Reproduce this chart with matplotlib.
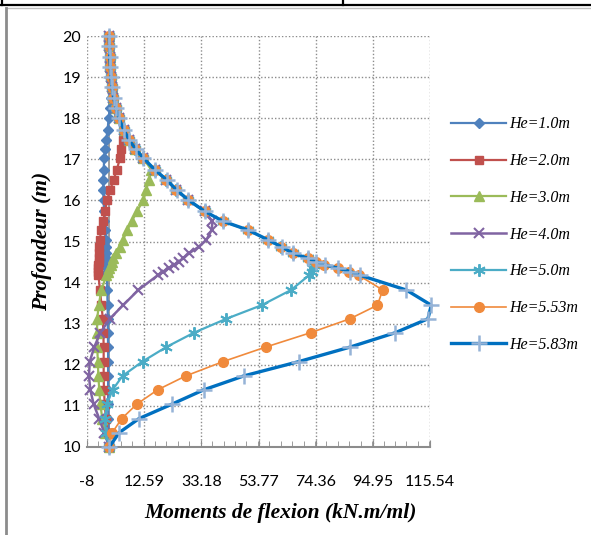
import matplotlib
matplotlib.use("Agg")
import matplotlib.pyplot as plt
from matplotlib.lines import Line2D
from matplotlib.ticker import MultipleLocator, FixedLocator

# depth of the nodes (m)
profondeur = [10.00, 10.35, 10.69, 11.04, 11.39, 11.73, 12.08, 12.43, 12.78, 13.12, 13.45, 13.82,
              14.18, 14.27, 14.35, 14.43, 14.51, 14.59, 14.71, 14.87, 15.04, 15.28, 15.49, 15.73,
              16.01, 16.25, 16.50, 16.74, 17.03, 17.25, 17.47, 17.71, 18.00, 18.25, 18.50, 18.75,
              19.00, 19.25, 19.50, 19.75, 20.00]

# bending moments (kN.m/ml) for each excavation height
m_10 = [0.0, -0.2, -0.3, -0.4, -0.4, -0.4, -0.4, -0.4, -0.5, -0.5, -0.6, -0.7,
        -0.8, -0.8, -0.9, -0.9, -1.0, -1.0, -1.1, -1.2, -1.3, -1.5, -1.7, -1.9,
        -2.0, -2.1, -2.1, -2.0, -1.8, -1.5, -1.1, -0.6, -0.2, 0.3, 0.5, 0.5,
        0.4, 0.3, 0.2, 0.1, 0.0]
m_20 = [0.0, -0.6, -1.2, -1.6, -1.9, -2.0, -2.0, -2.0, -2.1, -2.3, -2.8, -3.3,
        -3.9, -3.9, -3.9, -3.9, -3.8, -3.8, -3.7, -3.5, -3.3, -3.0, -2.2, -1.5,
        -0.8, 0.3, 1.6, 2.7, 3.9, 4.4, 4.8, 5.2, 3.4, 2.3, 1.5, 0.9,
        0.5, 0.3, 0.2, 0.1, 0.0]
m_30 = [0.0, -1.5, -2.5, -3.2, -3.6, -3.9, -4.1, -4.3, -4.4, -4.3, -3.8, -2.8,
        -1.0, -0.5, 0.0, 0.5, 1.0, 1.5, 2.3, 3.8, 5.0, 6.5, 8.1, 10.0,
        12.3, 13.3, 14.3, 15.2, 12.2, 9.4, 7.1, 5.2, 3.4, 2.3, 1.5, 0.9,
        0.5, 0.3, 0.2, 0.1, 0.0]
m_40 = [0.0, -1.8, -3.6, -5.6, -6.8, -7.3, -7.0, -5.4, -3.2, 0.2, 5.0, 10.5,
        17.5, 19.5, 21.5, 23.3, 25.0, 26.7, 28.7, 32.2, 35.0, 36.9, 37.2, 34.4,
        28.4, 24.2, 20.6, 16.4, 12.2, 9.4, 7.1, 5.2, 3.4, 2.3, 1.5, 0.9,
        0.5, 0.3, 0.2, 0.1, 0.0]
m_50 = [0.0, -1.2, -1.5, -0.8, 1.2, 4.8, 12.0, 20.5, 30.5, 42.2, 54.9, 65.5,
        72.0, 73.0, 73.5, 73.6, 73.2, 71.6, 66.2, 62.0, 57.1, 49.9, 41.0, 34.4,
        28.4, 24.2, 20.6, 16.4, 12.2, 9.4, 7.1, 5.2, 3.4, 2.3, 1.5, 0.9,
        0.5, 0.3, 0.2, 0.1, 0.0]
m_553 = [0.0, 1.1, 4.5, 9.9, 17.4, 27.6, 41.1, 56.3, 72.5, 86.7, 96.6, 98.5,
         89.8, 86.4, 82.3, 77.5, 74.3, 71.5, 66.2, 62.0, 57.1, 49.9, 41.0, 34.4,
         28.4, 24.2, 20.6, 16.4, 12.2, 9.4, 7.1, 5.2, 3.4, 2.3, 1.5, 0.9,
         0.5, 0.3, 0.2, 0.1, 0.0]
m_583 = [0.0, 3.6, 10.7, 22.5, 34.0, 48.5, 68.4, 86.7, 103.0, 114.8, 116.0, 107.0,
         90.3, 86.7, 82.5, 77.7, 74.5, 71.7, 66.3, 62.1, 57.2, 50.0, 41.1, 34.5,
         28.5, 24.3, 20.7, 16.5, 12.3, 9.5, 7.2, 5.3, 3.5, 2.4, 1.6, 1.0,
         0.6, 0.4, 0.2, 0.1, 0.0]

labels = ['He=1.0m', 'He=2.0m', 'He=3.0m', 'He=4.0m', 'He=5.0m', 'He=5.53m', 'He=5.83m']
x_ticks = [-8, 12.59, 33.18, 53.77, 74.36, 94.95, 115.54]

W, H = 591, 535
fig = plt.figure(figsize=(W / 100, H / 100), dpi=100)
ax = fig.add_axes([87 / W, 1 - 447 / H, (430 - 87) / W, (447 - 36) / H])

# vertical axis line at x = 0
ax.plot([0, 0], [10, 20], color='#8c8c8c', lw=1.2, zorder=1)

styles = [
    dict(color='#4F81BD', marker='D', ms=5, lw=1.6),
    dict(color='#C0504D', marker='s', ms=6, lw=1.6),
    dict(color='#9BBB59', marker='^', ms=6.5, lw=1.6),
    dict(color='#8064A2', marker='x', ms=7, mew=1.5, lw=1.8),
    dict(color='#4BACC6', marker=(6, 2, 0), ms=9, mew=1.4, lw=1.6),
    dict(color='#F08A3C', marker='o', ms=7, lw=1.2),
    dict(color='#0070C0', marker='+', ms=11, mew=1.8, mec='#95B3D7', lw=2.4),
]
series = [m_10, m_20, m_30, m_40, m_50, m_553, m_583]
for vals, lab, st in zip(series, labels, styles):
    ax.plot(vals, profondeur, label=lab, clip_on=False, zorder=3, **st)

ax.set_xlim(-8, 115.54)
ax.set_ylim(10, 20)
ax.xaxis.set_major_locator(FixedLocator(x_ticks))
ax.xaxis.set_minor_locator(MultipleLocator(20.59 / 5))
ax.yaxis.set_major_locator(MultipleLocator(1))
ax.set_xticklabels(['-8', '12.59', '33.18', '53.77', '74.36', '94.95', '115.54'])

ax.grid(True, which='major', color='#8c8c8c', linestyle=(0, (1, 1.5)), lw=1.0)
ax.set_axisbelow(True)
for s in ['top', 'right', 'left']:
    ax.spines[s].set_visible(False)
ax.spines['bottom'].set_color('#8c8c8c')
ax.spines['bottom'].set_linewidth(1.5)

ax.tick_params(axis='x', which='both', direction='in', colors='#8c8c8c', labelcolor='black',
               labelsize=11.5, pad=20)
ax.tick_params(axis='x', which='major', length=5)
ax.tick_params(axis='x', which='minor', length=4)
ax.tick_params(axis='y', length=0, labelsize=11.5, pad=4)
for t in ax.get_xticklabels() + ax.get_yticklabels():
    t.set_fontfamily('Lato')

ax.set_xlabel('Moments de flexion (kN.m/ml)', family='Liberation Serif', style='italic',
              weight='bold', fontsize=15.5)
ax.xaxis.set_label_coords((280 - 87) / 343, -(513 - 447) / 411, transform=ax.transAxes)
ax.xaxis.label.set_va('center')
ax.set_ylabel('Profondeur (m)', family='Liberation Serif', style='italic',
              weight='bold', fontsize=15.5, labelpad=8)

fig.legend(loc='upper left', bbox_to_anchor=(437 / W, 1 - 102 / H), frameon=False,
           prop=dict(family='Liberation Serif', style='italic', size=11.5),
           numpoints=1, handlelength=3.4, handletextpad=0.2, labelspacing=1.3)

# table cell borders around the chart
fig.add_artist(Line2D([0, 1], [1 - 5 / H, 1 - 5 / H], color='black', lw=1.6))
fig.add_artist(Line2D([2 / W, 2 / W], [1, 1 - 5 / H], color='black', lw=1.6))
fig.add_artist(Line2D([343 / W, 343 / W], [1, 1 - 5 / H], color='black', lw=1.6))
fig.add_artist(Line2D([6 / W, 1], [1 - 8 / H, 1 - 8 / H], color='#bfbfbf', lw=1.0))
fig.add_artist(Line2D([6 / W, 6 / W], [1 - 8 / H, 0], color='#8c8c8c', lw=2.0))

fig.savefig('out.png', dpi=100)
